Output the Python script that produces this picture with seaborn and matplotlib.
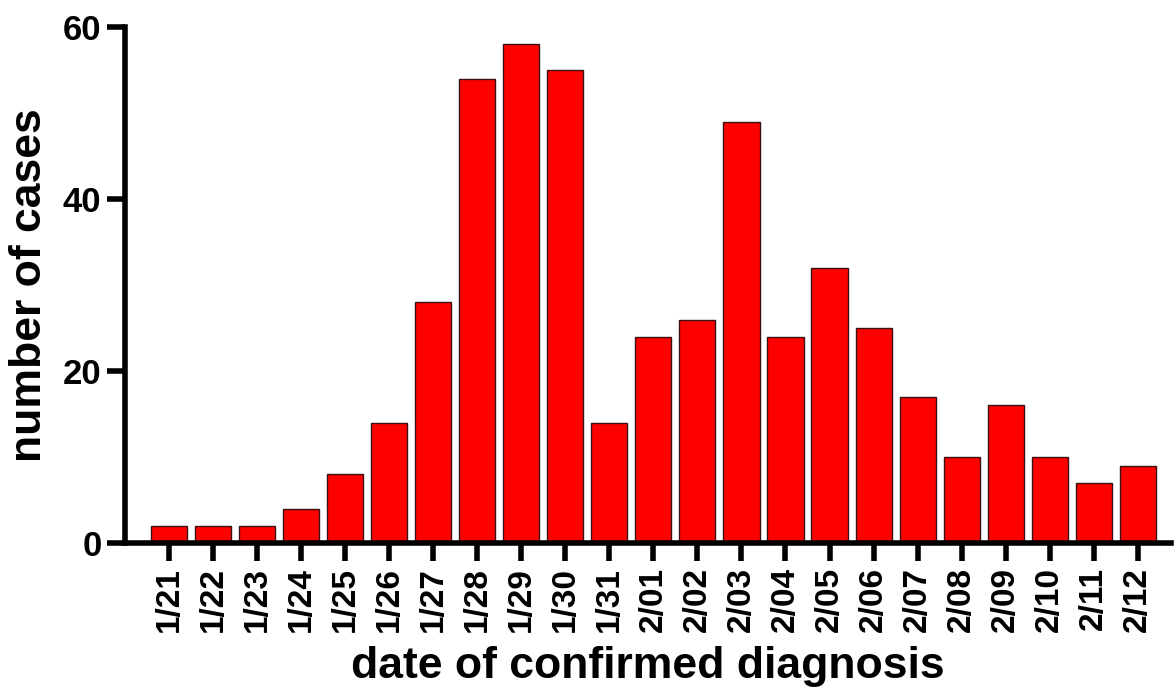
import pandas as pd
import seaborn as sns
import matplotlib.pyplot as plt
from matplotlib import font_manager

# data
dates = ["1/21", "1/22", "1/23", "1/24", "1/25", "1/26", "1/27", "1/28", "1/29", "1/30", "1/31",
         "2/01", "2/02", "2/03", "2/04", "2/05", "2/06", "2/07", "2/08", "2/09", "2/10", "2/11", "2/12"]
cases = [2, 2, 2, 4, 8, 14, 28, 54, 58, 55, 14,
         24, 26, 49, 24, 32, 25, 17, 10, 16, 10, 7, 9]
y_ticks = [0, 20, 40, 60]

df = pd.DataFrame({"date": dates, "cases": cases})

sns.set_style("ticks")
plt.rcParams["font.family"] = ["Liberation Sans", "DejaVu Sans"]
plt.rcParams["font.weight"] = "bold"
plt.rcParams["text.color"] = "black"
plt.rcParams["axes.labelcolor"] = "black"

# the axis titles in the original look condensed
names = {f.name for f in font_manager.fontManager.ttflist}
if "Liberation Sans Narrow" in names:
    label_font, label_size = ["Liberation Sans Narrow", "DejaVu Sans"], 38.5
else:
    label_font, label_size = ["Liberation Sans", "DejaVu Sans"], 32

fig = plt.figure(figsize=(11.75, 6.98), dpi=100)
ax = fig.add_axes([0.1064, 0.222, 0.89, 0.739])

sns.barplot(data=df, x="date", y="cases", color="#ff0000", saturation=1,
            edgecolor="#3a1010", linewidth=1.0, width=0.82, ax=ax)

ax.set_xlim(-1, 22.75)
ax.set_ylim(0, 60)
ax.set_yticks(y_ticks)
ax.tick_params(axis="both", direction="out", length=13, width=4, colors="black", pad=4)
ax.tick_params(axis="x", labelrotation=90, labelsize=24)
ax.tick_params(axis="y", labelsize=25)

# only left and bottom axis lines, thick like the original
ax.spines["top"].set_visible(False)
ax.spines["right"].set_visible(False)
for side in ["left", "bottom"]:
    ax.spines[side].set_linewidth(4)
    ax.spines[side].set_color("black")
    ax.spines[side].set_capstyle("projecting")

ax.set_xlabel("date of confirmed diagnosis", family=label_font, fontsize=label_size,
              fontweight="bold", color="black", labelpad=10)
ax.set_ylabel("number of cases", family=label_font, fontsize=label_size,
              fontweight="bold", color="black", labelpad=9)

fig.savefig("out.png", dpi=100)
